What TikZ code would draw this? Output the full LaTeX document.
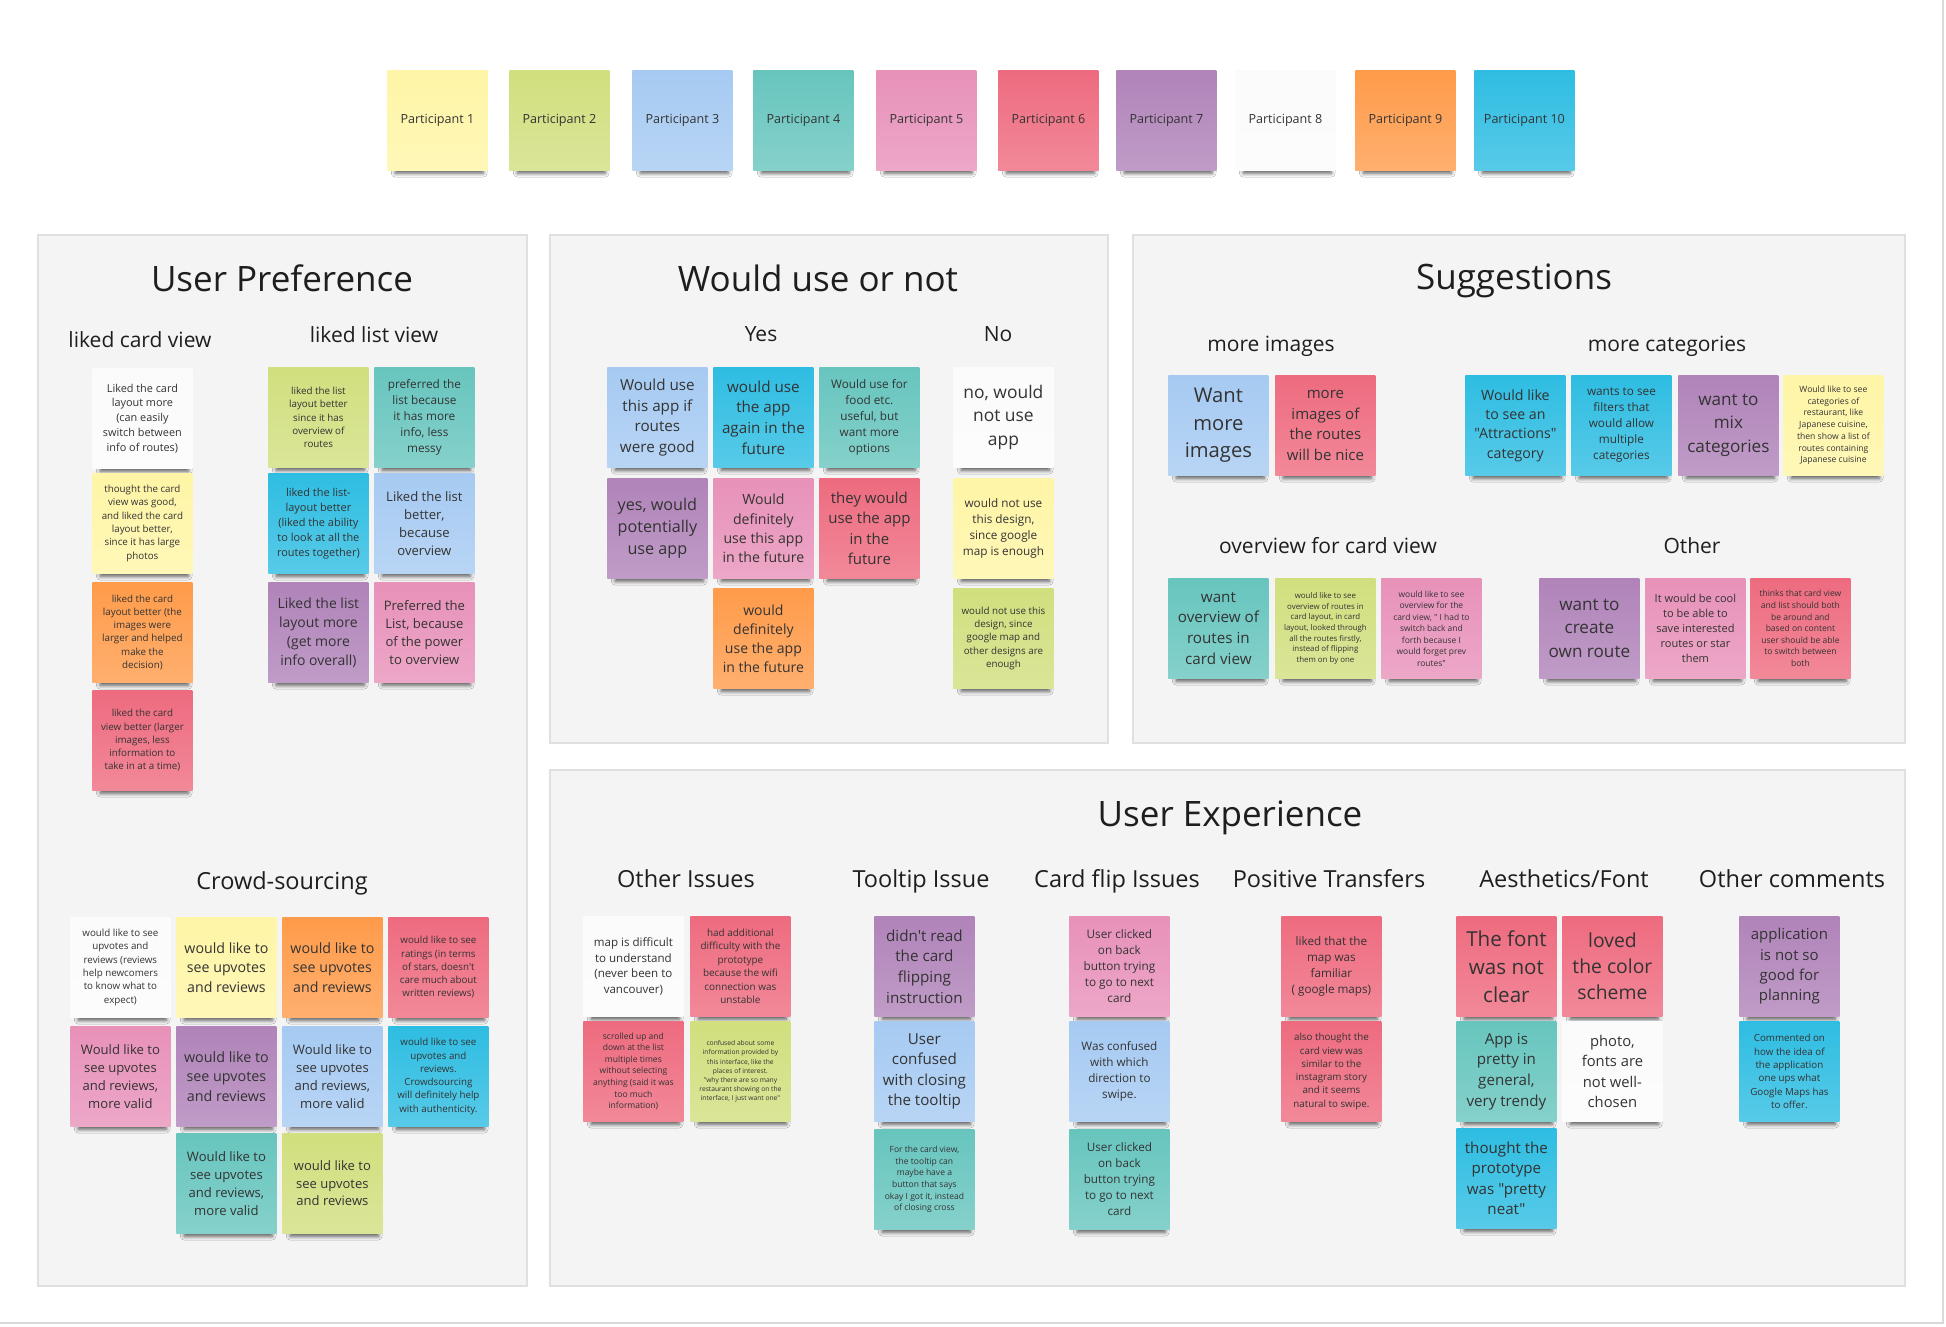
\documentclass[tikz,border=0pt]{standalone}
\usepackage{fontspec}
\setmainfont{Open Sans}[Ligatures=TeXOff]
\usetikzlibrary{shadows.blur}

% sticky-note palette
\definecolor{pyellow}{HTML}{FFF5A6}
\definecolor{pgreen}{HTML}{D1DF7E}
\definecolor{pblue}{HTML}{A6CAF2}
\definecolor{pteal}{HTML}{67C5BE}
\definecolor{ppink}{HTML}{E891B9}
\definecolor{pred}{HTML}{EE6B7F}
\definecolor{ppurple}{HTML}{B083B9}
\definecolor{pwhite}{HTML}{FBFBFB}
\definecolor{porange}{HTML}{FF9B4A}
\definecolor{pcyan}{HTML}{2EBDE2}
\definecolor{ink}{HTML}{333333}
\definecolor{headink}{HTML}{1E1E1E}
\definecolor{panelfill}{HTML}{F4F4F4}
\definecolor{panelline}{HTML}{E0E0E0}

% note font given by its line pitch (in pixels of the board)
\newcommand\nf[1]{\pgfmathsetmacro\nfsz{#1*0.3676}\pgfmathsetmacro\nfbs{#1*0.5}\fontsize{\nfsz pt}{\nfbs pt}\selectfont}

\tikzset{
  note/.style={anchor=north west, minimum width=50pt, minimum height=50pt,
    inner sep=1pt, align=center, text=ink,
    top color=#1, bottom color=#1!80!white,
    blur shadow={shadow xshift=1pt, shadow yshift=-5pt, shadow scale=0.88,
      shadow blur radius=2.2pt, shadow opacity=65}},
  panel/.style={fill=panelfill, draw=panelline, line width=1pt},
  title/.style={anchor=base, text=headink, font=\fontsize{17.5pt}{21pt}\selectfont},
  subtitle/.style={anchor=base, text=headink, font=\fontsize{10.5pt}{13pt}\selectfont},
  uxsub/.style={anchor=base, text=headink, font=\fontsize{11.75pt}{14pt}\selectfont},
  canvasedge/.style={draw=black!15, line width=1pt},
}

\begin{document}
\begin{tikzpicture}[x=0.5pt,y=-0.5pt]
\useasboundingbox (0,0) rectangle (1946,1326);
\fill[white] (0,0) rectangle (1946,1326);
\draw[canvasedge] (1943,0) -- (1943,1323) -- (0,1323);

% ---------- participant legend ----------
\node[note=pyellow, font=\nf{17.1}] (p1) at (387,70) {Participant 1};
\node[note=pgreen,  font=\nf{17.1}] (p2) at (509,70) {Participant 2};
\node[note=pblue,   font=\nf{17.1}] (p3) at (632,70) {Participant 3};
\node[note=pteal,   font=\nf{17.1}] (p4) at (753,70) {Participant 4};
\node[note=ppink,   font=\nf{17.1}] (p5) at (876,70) {Participant 5};
\node[note=pred,    font=\nf{17.1}] (p6) at (998,70) {Participant 6};
\node[note=ppurple, font=\nf{17.1}] (p7) at (1116,70) {Participant 7};
\node[note=pwhite,  font=\nf{17.1}] (p8) at (1235,70) {Participant 8};
\node[note=porange, font=\nf{17.1}] (p9) at (1355,70) {Participant 9};
\node[note=pcyan,   font=\nf{17.1}] (p10) at (1474,70) {Participant 10};

% ---------- panels ----------
\path[panel] (38,235) rectangle (527,1286);
\path[panel] (550,235) rectangle (1108,743);
\path[panel] (1133,235) rectangle (1905,743);
\path[panel] (550,770) rectangle (1905,1286);

% ---------- User Preference ----------
\node[title] (tup) at (282,292) {User Preference};
\node[subtitle] (scard) at (140,347) {liked card view};
\node[subtitle] (slist) at (374,343) {liked list view};

\node[note=pwhite, font=\nf{14.8}] (up1) at (92,368) {Liked the card\\layout more\\(can easily\\switch between\\info of routes)};
\node[note=pyellow, font=\nf{13.3}] (up2) at (92,473) {thought the card\\view was good,\\and liked the card\\layout better,\\since it has large\\photos};
\node[note=porange, font=\nf{13.3}] (up3) at (92,582) {liked the card\\layout better (the\\images were\\larger and helped\\make the\\decision)};
\node[note=pred, font=\nf{13.3}] (up4) at (92,690) {liked the card\\view better (larger\\images, less\\information to\\take in at a time)};

\node[note=pgreen, font=\nf{13.3}] (ul1) at (268,367) {liked the list\\layout better\\since it has\\overview of\\routes};
\node[note=pcyan, font=\nf{14.9}] (ul2) at (268,473) {liked the list-\\layout better\\(liked the ability\\to look at all the\\routes together)};
\node[note=ppurple, font=\nf{19}] (ul3) at (268,582) {Liked the list\\layout more\\(get more\\info overall)};
\node[note=pteal, font=\nf{16}] (ul4) at (374,367) {preferred the\\list because\\it has more\\info, less\\messy};
\node[note=pblue, font=\nf{17.8}] (ul5) at (374,473) {Liked the list\\better,\\because\\overview};
\node[note=ppink, font=\nf{17.8}] (ul6) at (374,582) {Preferred the\\List, because\\of the power\\to overview};

% ---------- Crowd-sourcing ----------
\node[uxsub] (scrowd) at (282,889) {Crowd-sourcing};
\node[note=pwhite, font=\nf{13.3}] (cs1) at (70,917) {would like to see\\upvotes and\\reviews (reviews\\help newcomers\\to know what to\\expect)};
\node[note=pyellow, font=\nf{19.3}] (cs2) at (176,917) {would like to\\see upvotes\\and reviews};
\node[note=porange, font=\nf{19.3}] (cs3) at (282,917) {would like to\\see upvotes\\and reviews};
\node[note=pred, font=\nf{13.3}] (cs4) at (388,917) {would like to see\\ratings (in terms\\of stars, doesn't\\care much about\\written reviews)};
\node[note=ppink, font=\nf{17.8}] (cs5) at (70,1026) {Would like to\\see upvotes\\and reviews,\\more valid};
\node[note=ppurple, font=\nf{19.5}] (cs6) at (176,1026) {would like to\\see upvotes\\and reviews};
\node[note=pblue, font=\nf{17.8}] (cs7) at (282,1026) {Would like to\\see upvotes\\and reviews,\\more valid};
\node[note=pcyan, font=\nf{13.3}] (cs8) at (388,1026) {would like to see\\upvotes and\\reviews.\\Crowdsourcing\\will definitely help\\with authenticity.};
\node[note=pteal, font=\nf{17.8}] (cs9) at (176,1133) {Would like to\\see upvotes\\and reviews,\\more valid};
\node[note=pgreen, font=\nf{17.7}] (cs10) at (282,1133) {would like to\\see upvotes\\and reviews};

% ---------- Would use or not ----------
\node[title] (twu) at (818,292) {Would use or not};
\node[subtitle] (syes) at (761,342) {Yes};
\node[subtitle] (sno) at (998,342) {No};

\node[note=pblue, font=\nf{20.7}] (wy1) at (607,367) {Would use\\this app if\\routes\\were good};
\node[note=pcyan, font=\nf{20.7}] (wy2) at (713,367) {would use\\the app\\again in the\\future};
\node[note=pteal, font=\nf{16}] (wy3) at (819,367) {Would use for\\food etc.\\useful, but\\want more\\options};
\node[note=ppurple, font=\nf{22}] (wy4) at (607,478) {yes, would\\potentially\\use app};
\node[note=ppink, font=\nf{19.2}] (wy5) at (713,478) {Would\\definitely\\use this app\\in the future};
\node[note=pred, font=\nf{20.4}] (wy6) at (819,478) {they would\\use the app\\in the\\future};
\node[note=porange, font=\nf{19.1}] (wy7) at (713,588) {would\\definitely\\use the app\\in the future};

\node[note=pwhite, font=\nf{23.7}] (wn1) at (953,367) {no, would\\not use\\app};
\node[note=pyellow, font=\nf{16}] (wn2) at (953,478) {would not use\\this design,\\since google\\map is enough};
\node[note=pgreen, font=\nf{13.3}] (wn3) at (953,588) {would not use this\\design, since\\google map and\\other designs are\\enough};

% ---------- Suggestions ----------
\node[title] (tsg) at (1514,290) {Suggestions};
\node[subtitle] (simg) at (1271,351) {more images};
\node[subtitle] (scat) at (1667,351) {more categories};
\node[subtitle] (sover) at (1328,553) {overview for card view};
\node[subtitle] (soth) at (1692,553) {Other};

\node[note=pblue, font=\nf{27.5}] (sg1) at (1168,375) {Want\\more\\images};
\node[note=pred, font=\nf{20.4}] (sg2) at (1275,375) {more\\images of\\the routes\\will be nice};
\node[note=pcyan, font=\nf{19.3}] (sg3) at (1465,375) {Would like\\to see an\\"Attractions"\\category};
\node[note=pcyan, font=\nf{16}] (sg4) at (1571,375) {wants to see\\filters that\\would allow\\multiple\\categories};
\node[note=ppurple, font=\nf{23.3}] (sg5) at (1678,375) {want to\\mix\\categories};
\node[note=pyellow, font=\nf{11.7}] (sg6) at (1783,375) {Would like to see\\categories of\\restaurant,  like\\Japanese cuisine,\\then show a list of\\routes containing\\Japanese cuisine};

\node[note=pteal, font=\nf{20.7}] (sg7) at (1168,578) {want\\overview of\\routes in\\card view};
\node[note=pgreen, font=\nf{10.7}] (sg8) at (1275,578) {would like to see\\overview of routes in\\card layout, in card\\layout, looked through\\all the routes firstly,\\instead of flipping\\them on by one};
\node[note=ppink, font=\nf{11.5}] (sg9) at (1381,578) {would like to see\\overview for the\\card view, " I had to\\switch back and\\forth because I\\would forget prev\\routes"};
\node[note=ppurple, font=\nf{23.3}] (sg10) at (1539,578) {want to\\create\\own route};
\node[note=ppink, font=\nf{15}] (sg11) at (1645,578) {It would be cool\\to be able to\\save interested\\routes or star\\them};
\node[note=pred, font=\nf{11.6}] (sg12) at (1750,578) {thinks that card view\\and list should  both\\be around and\\based on content\\user should be able\\to switch between\\both};

% ---------- User Experience ----------
\node[title] (tux) at (1230,826) {User Experience};
\node[uxsub] (sother) at (686,887) {Other Issues};
\node[uxsub] (stool) at (921,887) {Tooltip Issue};
\node[uxsub] (sflip) at (1117,887) {Card flip Issues};
\node[uxsub] (spos) at (1329,887) {Positive Transfers};
\node[uxsub] (saes) at (1564,887) {Aesthetics/Font};
\node[uxsub] (scom) at (1792,887) {Other comments};

\node[note=pwhite, font=\nf{15.7}] (ux1) at (583,916) {map is difficult\\to understand\\(never been to\\vancouver)};
\node[note=pred, font=\nf{13.5}] (ux2) at (690,916) {had additional\\difficulty with the\\prototype\\because the wifi\\connection was\\unstable};
\node[note=pred, font=\nf{11.6}] (ux3) at (583,1021) {scrolled up and\\down at the list\\multiple times\\without selecting\\anything (said it was\\too much\\information)};
\node[note=pgreen, font=\nf{9.1}] (ux4) at (690,1021) {confused about some\\information provided by\\this interface, like the\\places of interest.\\"why there are so many\\restaurant showing on the\\interface, I just want one"};

\node[note=ppurple, font=\nf{20.7}] (tt1) at (874,916) {didn't read\\the card\\flipping\\instruction};
\node[note=pblue, font=\nf{20.6}] (tt2) at (874,1021) {User\\confused\\with closing\\the tooltip};
\node[note=pteal, font=\nf{11.6}] (tt3) at (874,1129) {For the card view,\\the tooltip can\\maybe have a\\button that says\\okay I got it, instead\\of closing cross};

\node[note=ppink, font=\nf{16}] (cf1) at (1069,916) {User clicked\\on back\\button trying\\to go to next\\card};
\node[note=pblue, font=\nf{15.9}] (cf2) at (1069,1021) {Was confused\\with which\\direction to\\swipe.};
\node[note=pteal, font=\nf{15.9}] (cf3) at (1069,1129) {User clicked\\on back\\button trying\\to go to next\\card};

\node[note=pred, font=\nf{15.9}] (pt1) at (1281,916) {liked that the\\map was\\familiar\\( google maps)};
\node[note=pred, font=\nf{13.3}] (pt2) at (1281,1021) {also thought the\\card view was\\similar to the\\instagram story\\and it seems\\natural to swipe.};

\node[note=pred, font=\nf{28}] (af1) at (1456,916) {The font\\was not\\clear};
\node[note=pred, font=\nf{26.3}] (af2) at (1562,916) {loved\\the color\\scheme};
\node[note=pteal, font=\nf{20.6}] (af3) at (1456,1021) {App is\\pretty in\\general,\\very trendy};
\node[note=pwhite, font=\nf{20.1}] (af4) at (1562,1021) {photo,\\fonts are\\not well-\\chosen};
\node[note=pcyan, font=\nf{20.6}] (af5) at (1456,1128) {thought the\\prototype\\was "pretty\\neat"};

\node[note=ppurple, font=\nf{20.4}] (oc1) at (1739,916) {application\\is not so\\good for\\planning};
\node[note=pcyan, font=\nf{13.3}] (oc2) at (1739,1021) {Commented on\\how the idea of\\the application\\one ups what\\Google Maps has\\to offer.};
\end{tikzpicture}
\end{document}
